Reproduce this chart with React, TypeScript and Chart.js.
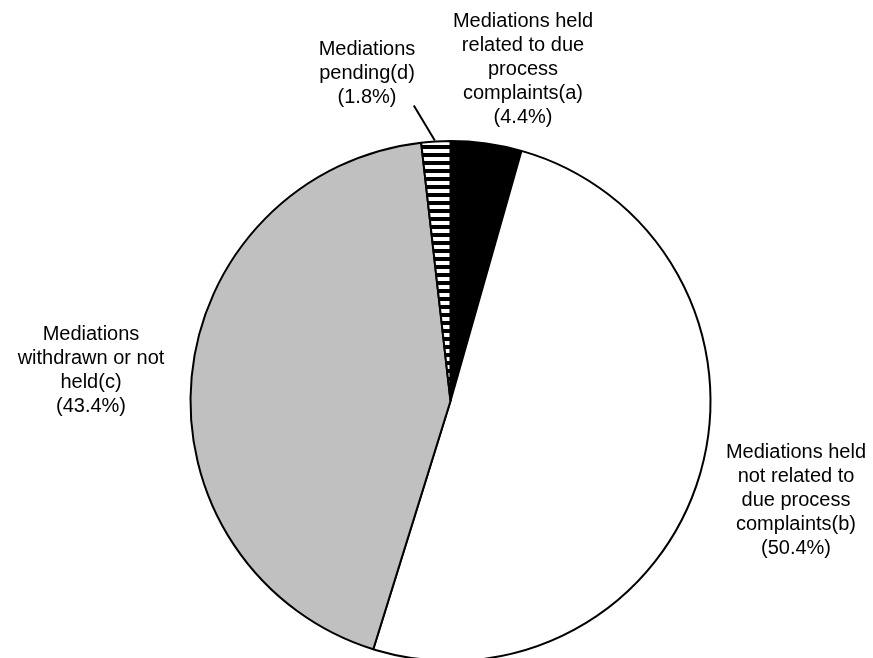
import React, { useEffect, useRef } from "react";
import { Chart, registerables } from "chart.js";

Chart.register(...registerables);

const categories: string[][] = [
  ["Mediations held", "related to due", "process", "complaints(a)"],
  ["Mediations held", "not related to", "due process", "complaints(b)"],
  ["Mediations", "withdrawn or not", "held(c)"],
  ["Mediations", "pending(d)"],
];
const values: number[] = [4.4, 50.4, 43.4, 1.8];
const percentLabels: string[] = ["(4.4%)", "(50.4%)", "(43.4%)", "(1.8%)"];

// label block centers relative to the pie center (layout only)
const labelOffsets: [number, number][] = [
  [72.5, -332],
  [345.5, 99],
  [-359.5, -31],
  [-83.5, -328],
];

function makeStripes(ctx: CanvasRenderingContext2D): CanvasPattern | string {
  const c = document.createElement("canvas");
  c.width = 8;
  c.height = 8;
  const p = c.getContext("2d");
  if (!p) return "#000";
  p.fillStyle = "#000000";
  p.fillRect(0, 0, 8, 8);
  p.fillStyle = "#ffffff";
  p.fillRect(0, 5, 8, 3);
  p.fillRect(0, 0, 8, 1);
  return ctx.createPattern(c, "repeat") || "#000";
}

export default function App() {
  const ref = useRef<HTMLCanvasElement | null>(null);
  useEffect(() => {
    const canvas = ref.current;
    if (!canvas) return;
    const ctx = canvas.getContext("2d");
    if (!ctx) return;
    const stripes = makeStripes(ctx);

    const labelPlugin = {
      id: "pieLabels",
      afterDraw(chart: any) {
        const meta = chart.getDatasetMeta(0);
        const c = chart.ctx as CanvasRenderingContext2D;
        const lineH = 24;
        c.save();
        c.font = "20px 'Liberation Sans', Arial, sans-serif";
        c.fillStyle = "#000";
        c.textAlign = "center";
        c.textBaseline = "middle";
        meta.data.forEach((arc: any, i: number) => {
          const lines = [...categories[i], percentLabels[i]];
          const cx = arc.x + labelOffsets[i][0];
          const cy = arc.y + labelOffsets[i][1];
          const top = cy - ((lines.length - 1) * lineH) / 2;
          lines.forEach((t, j) => c.fillText(t, cx, top + j * lineH));
        });
        // leader line for the small slice (d)
        const arc = meta.data[3] as any;
        const mid = (arc.startAngle + arc.endAngle) / 2;
        const ex = arc.x + Math.cos(mid) * arc.outerRadius;
        const ey = arc.y + Math.sin(mid) * arc.outerRadius;
        c.strokeStyle = "#000";
        c.lineWidth = 2;
        c.beginPath();
        c.moveTo(ex - 22, ey - 36);
        c.lineTo(ex - 1, ey - 1);
        c.stroke();
        c.restore();
      },
    };

    const chart = new Chart(canvas, {
      type: "pie",
      data: {
        labels: categories.map((l) => l.join(" ")),
        datasets: [
          {
            data: values,
            backgroundColor: ["#000000", "#ffffff", "#c0c0c0", stripes as any],
            borderColor: "#000000",
            borderWidth: 2,
          },
        ],
      },
      options: {
        animation: false,
        responsive: false,
        layout: { padding: { left: 189.5, right: 161.5, top: 140, bottom: 38 } },
        plugins: {
          legend: { display: false },
          tooltip: { enabled: false },
        },
      },
      plugins: [labelPlugin],
    });
    return () => chart.destroy();
  }, []);

  return (
    <div
      style={{
        position: "fixed",
        left: 0,
        top: 0,
        width: 873,
        height: 658,
        overflow: "hidden",
        background: "#fff",
      }}
    >
      <canvas ref={ref} width={873} height={700} style={{ display: "block" }} />
    </div>
  );
}
